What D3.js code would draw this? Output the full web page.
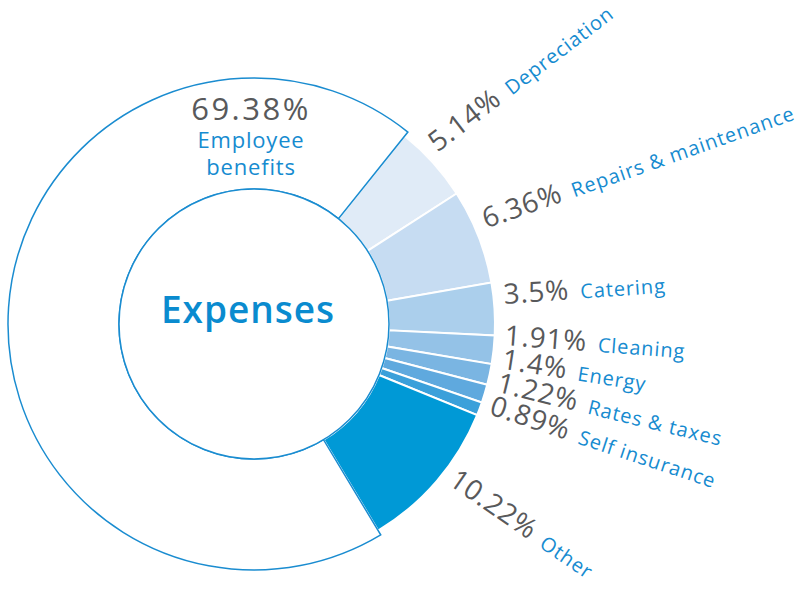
<!DOCTYPE html>
<html><head><meta charset="utf-8">
<script src="https://cdn.jsdelivr.net/npm/d3@7"></script>
<style>body{margin:0;background:#fff}svg{display:block}</style>
</head><body>
<svg id="chart" width="808" height="598"></svg>
<script>
const categories = ["Employee benefits","Depreciation","Repairs & maintenance","Catering","Cleaning","Energy","Rates & taxes","Self insurance","Other"];
const values = [69.38, 5.14, 6.36, 3.5, 1.91, 1.4, 1.22, 0.89, 10.22];
const valueLabels = ["69.38%","5.14%","6.36%","3.5%","1.91%","1.4%","1.22%","0.89%","10.22%"];
const colors = ["#ffffff","#e0ebf7","#c6dcf2","#abcfec","#94c2e7","#7ab5e2","#5fa9de","#3ba0da","#0099d6"];
const centerTitle = "Expenses";

const svg = d3.select("#chart");
const cx = 254, cy = 324;
const rInner = 135, rOuter = 241, rOuterMain = 246;
const rad = d => d * Math.PI / 180;
const deg = r => r * 180 / Math.PI;
const FONT = "'Open Sans', sans-serif";
const GREY = "#58595b", BLUE = "#168bd0", LINE = "#1a8cd0";

const data = categories.map((c, i) => ({name: c, value: values[i], label: valueLabels[i], color: colors[i], idx: i}));
const startDeg = 149;
const pie = d3.pie().sort(null).value(d => d.value).startAngle(rad(startDeg)).endAngle(rad(startDeg + 360));
const arcs = pie(data);

const g = svg.append("g").attr("transform", `translate(${cx},${cy})`);
const arcSmall = d3.arc().innerRadius(rInner).outerRadius(rOuter);
const arcMain = d3.arc().innerRadius(rInner).outerRadius(rOuterMain);

g.selectAll("path.slice").data(arcs.filter(a => a.data.idx !== 0)).join("path")
  .attr("class", "slice")
  .attr("d", arcSmall)
  .attr("fill", d => d.data.color)
  .attr("stroke", "#ffffff").attr("stroke-width", 2).attr("stroke-linejoin", "miter");

g.append("path").datum(arcs[0])
  .attr("d", arcMain)
  .attr("fill", colors[0])
  .attr("stroke", LINE).attr("stroke-width", 1.5).attr("stroke-linejoin", "miter");

g.append("circle").attr("r", rInner).attr("fill", "#ffffff").attr("stroke", LINE).attr("stroke-width", 1.5);

g.append("text").attr("x", -6).attr("y", -1)
  .attr("text-anchor", "middle")
  .attr("font-family", FONT).attr("font-weight", 600).attr("font-size", 37)
  .attr("fill", "#0a8bcf").attr("letter-spacing", 1)
  .text(centerTitle);

// main slice label
g.append("text").attr("x", -3).attr("y", -204).attr("text-anchor", "middle")
  .attr("font-family", FONT).attr("font-size", 31).attr("fill", GREY).attr("letter-spacing", 2.5)
  .text(arcs[0].data.label);
arcs[0].data.name.split(" ").forEach((w, i) => {
  g.append("text").attr("x", -3).attr("y", -176 + i * 27).attr("text-anchor", "middle")
    .attr("font-family", FONT).attr("font-size", 22).attr("fill", BLUE).attr("letter-spacing", 0.8)
    .text(w);
});

// radial labels: start at slice mid angles, then spread apart to a minimum separation
const outer = arcs.filter(a => a.data.idx !== 0);
const ang = outer.map(a => ((deg((a.startAngle + a.endAngle) / 2) % 360) + 360) % 360 - 1);
const minSep = 5.4;
for (let it = 0; it < 200; it++) {
  for (let i = 1; i < ang.length; i++) {
    const gap = ang[i] - ang[i - 1];
    if (gap < minSep) { const p = (minSep - gap) / 2; ang[i - 1] -= p; ang[i] += p; }
  }
}
const labelR = 251;
outer.forEach((a, i) => {
  const th = rad(ang[i]);
  const x = labelR * Math.sin(th), y = -labelR * Math.cos(th);
  const rot = 0.87 * (ang[i] - 90);
  const t = g.append("text")
    .attr("transform", `translate(${x},${y}) rotate(${rot})`)
    .attr("font-family", FONT);
  t.append("tspan").attr("font-size", 28).attr("fill", GREY).attr("letter-spacing", 0.8).text(a.data.label);
  t.append("tspan").attr("dx", 11).attr("font-size", 20).attr("fill", BLUE).attr("letter-spacing", 0.9).text(a.data.name);
});
</script>
</body></html>
